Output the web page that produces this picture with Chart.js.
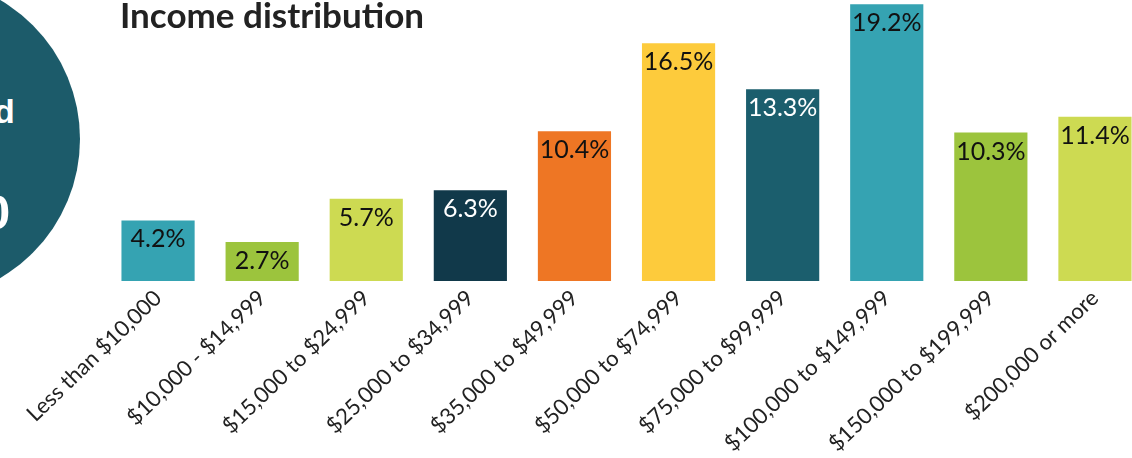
<!DOCTYPE html>
<html>
<head>
<meta charset="utf-8">
<script src="https://cdn.jsdelivr.net/npm/chart.js@4/dist/chart.umd.min.js"></script>
<style>
    html, body { margin: 0; padding: 0; background: #fff; }
    body { width: 1132px; height: 458px; overflow: hidden; position: relative; }
    #badge {
        position: absolute; left: -242px; top: -22px;
        width: 322px; height: 322px; border-radius: 50%;
        background: #1c5b6a;
    }
    .badge-text {
        position: absolute; color: #fff; font-family: "Liberation Sans", Arial, sans-serif;
        font-weight: bold; line-height: 1; white-space: nowrap;
    }
    #title {
        position: absolute; left: 120px; top: -3px; z-index: 2;
        font-family: Lato, "Open Sans", sans-serif; font-weight: bold;
        font-size: 35px; line-height: 1; color: #222;
    }
    #chart { position: absolute; left: 0; top: 0; }
</style>
</head>
<body>
<div id="badge"></div>
<span class="badge-text" style="left:-6px; top:94px; font-size:34px;">d</span>
<span class="badge-text" style="left:-17px; top:188px; font-size:49px;">0</span>
<canvas id="chart" width="1147" height="458"></canvas>
<div id="title">Income distribution</div>
<script>
    const categories = [
        'Less than $10,000', '$10,000 - $14,999', '$15,000 to $24,999',
        '$25,000 to $34,999', '$35,000 to $49,999', '$50,000 to $74,999',
        '$75,000 to $99,999', '$100,000 to $149,999', '$150,000 to $199,999',
        '$200,000 or more'
    ];
    const shares = [4.2, 2.7, 5.7, 6.3, 10.4, 16.5, 13.3, 19.2, 10.3, 11.4];

    const barColors = [
        '#35a3b2', '#9cc43d', '#cdda52', '#11394a', '#ee7624',
        '#fdcb3c', '#1b5e6d', '#35a3b2', '#9cc43d', '#cdda52'
    ];
    // dark bars get white value text
    const valueTextColors = barColors.map(c => (c === '#11394a' || c === '#1b5e6d') ? '#ffffff' : '#111111');

    const valueLabels = {
        id: 'valueLabels',
        afterDatasetsDraw(chart) {
            const ctx = chart.ctx;
            const meta = chart.getDatasetMeta(0);
            ctx.save();
            ctx.font = '25px Lato, "Open Sans", sans-serif';
            ctx.textAlign = 'center';
            ctx.textBaseline = 'alphabetic';
            meta.data.forEach((bar, i) => {
                ctx.fillStyle = valueTextColors[i];
                ctx.fillText(shares[i].toFixed(1) + '%', bar.x, bar.y + 27);
            });
            ctx.restore();
        }
    };

    new Chart(document.getElementById('chart'), {
        type: 'bar',
        data: {
            labels: categories,
            datasets: [{
                data: shares,
                backgroundColor: barColors,
                borderWidth: 0,
                categoryPercentage: 1,
                barPercentage: 0.703
            }]
        },
        options: {
            responsive: false,
            animation: false,
            layout: { padding: { left: 106, right: 0, top: 0, bottom: 0 } },
            plugins: {
                legend: { display: false },
                tooltip: { enabled: false },
                title: { display: false }
            },
            scales: {
                x: {
                    offset: true,
                    grid: { display: false, drawTicks: false },
                    border: { display: false },
                    ticks: {
                        autoSkip: false,
                        minRotation: 44,
                        maxRotation: 44,
                        padding: 4,
                        color: '#222',
                        font: { family: 'Lato, "Open Sans", sans-serif', size: 22 }
                    },
                    afterFit(scale) { scale.height = 177; }
                },
                y: {
                    display: false,
                    min: 0,
                    max: 19.5
                }
            }
        },
        plugins: [valueLabels]
    });
</script>
</body>
</html>
